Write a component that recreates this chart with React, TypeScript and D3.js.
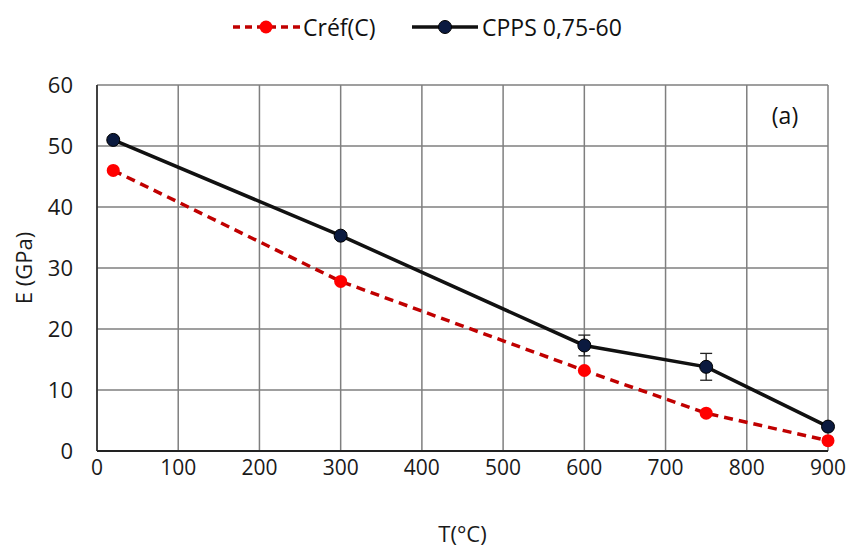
import React from "react";
import * as d3 from "d3";

const temps = [20, 300, 600, 750, 900];
const crefValues = [46, 27.8, 13.2, 6.2, 1.7];
const cppsValues = [51, 35.3, 17.3, 13.8, 4];
const cppsErrors = [0.4, 0.5, 1.7, 2.2, 0.4];
const xTicks = [0, 100, 200, 300, 400, 500, 600, 700, 800, 900];
const yTicks = [0, 10, 20, 30, 40, 50, 60];

const W = 851;
const H = 549;
const M = { left: 97, right: 23, top: 85, bottom: 98 };
const FONT = "'Open Sans', 'Liberation Sans', sans-serif";

export default function App() {
  const x = d3.scaleLinear().domain([0, 900]).range([M.left, W - M.right]);
  const y = d3.scaleLinear().domain([0, 60]).range([H - M.bottom, M.top]);

  const line = d3
    .line<number>()
    .x((_, i) => x(temps[i]))
    .y((d) => y(d));

  const red = "#c00000";
  const redMarker = "#ff0000";
  const navy = "#0b1a3f";
  const ink = "#1a1a1a";

  return (
    <svg
      width={W}
      height={H}
      style={{ position: "absolute", left: 0, top: 0, background: "#fff" }}
      fontFamily={FONT}
    >
      {/* grid */}
      {xTicks.map((t) => (
        <line key={"gx" + t} x1={x(t)} x2={x(t)} y1={y(60)} y2={y(0)} stroke="#7f7f7f" strokeWidth={1.5} />
      ))}
      {yTicks.map((t) => (
        <line key={"gy" + t} x1={x(0)} x2={x(900)} y1={y(t)} y2={y(t)} stroke="#7f7f7f" strokeWidth={1.5} />
      ))}
      {/* axes */}
      <line x1={x(0)} x2={x(0)} y1={y(60)} y2={y(0)} stroke="#222" strokeWidth={1.5} />
      <line x1={x(0)} x2={x(900)} y1={y(0)} y2={y(0)} stroke="#222" strokeWidth={2} />

      {/* tick labels */}
      {xTicks.map((t) => (
        <text key={"tx" + t} x={x(t)} y={y(0) + 24} textAnchor="middle" fontSize={21} fill={ink}>
          {t}
        </text>
      ))}
      {yTicks.map((t) => (
        <text key={"ty" + t} x={x(0) - 24} y={y(t) + 8} textAnchor="end" fontSize={22} fill={ink}>
          {t}
        </text>
      ))}

      {/* axis titles */}
      <text x={(x(0) + x(900)) / 2} y={542} textAnchor="middle" fontSize={22} fill={ink}>
        T(°C)
      </text>
      <text
        transform={`translate(32, ${(y(0) + y(60)) / 2}) rotate(-90)`}
        textAnchor="middle"
        fontSize={22}
        fill={ink}
      >
        E (GPa)
      </text>

      {/* panel label */}
      <text x={785} y={124} textAnchor="middle" fontSize={23} fill="#111">
        (a)
      </text>

      {/* Créf(C) series */}
      <path d={line(crefValues) || ""} fill="none" stroke={red} strokeWidth={3.5} strokeDasharray="9,6" />
      {crefValues.map((v, i) => (
        <circle key={"cr" + i} cx={x(temps[i])} cy={y(v)} r={6.5} fill={redMarker} />
      ))}

      {/* CPPS 0,75-60 series */}
      {cppsValues.map((v, i) => (
        <g key={"eb" + i} stroke="#222" strokeWidth={1.3}>
          <line x1={x(temps[i])} x2={x(temps[i])} y1={y(v - cppsErrors[i])} y2={y(v + cppsErrors[i])} />
          <line x1={x(temps[i]) - 6} x2={x(temps[i]) + 6} y1={y(v - cppsErrors[i])} y2={y(v - cppsErrors[i])} />
          <line x1={x(temps[i]) - 6} x2={x(temps[i]) + 6} y1={y(v + cppsErrors[i])} y2={y(v + cppsErrors[i])} />
        </g>
      ))}
      <path d={line(cppsValues) || ""} fill="none" stroke="#111" strokeWidth={3.5} />
      {cppsValues.map((v, i) => (
        <circle key={"cp" + i} cx={x(temps[i])} cy={y(v)} r={6.5} fill={navy} stroke="#000" strokeWidth={1} />
      ))}

      {/* legend */}
      <g>
        <line x1={233} x2={300} y1={27} y2={27} stroke={red} strokeWidth={3.5} strokeDasharray="7,5" />
        <circle cx={266} cy={27} r={6.5} fill={redMarker} />
        <text x={303} y={36} fontSize={23} fill="#111">
          Créf(C)
        </text>
        <line x1={412} x2={478} y1={27} y2={27} stroke="#111" strokeWidth={3.5} />
        <circle cx={445} cy={27} r={6.5} fill={navy} stroke="#000" strokeWidth={1} />
        <text x={482} y={36} fontSize={23} fill="#111">
          CPPS 0,75-60
        </text>
      </g>
    </svg>
  );
}
